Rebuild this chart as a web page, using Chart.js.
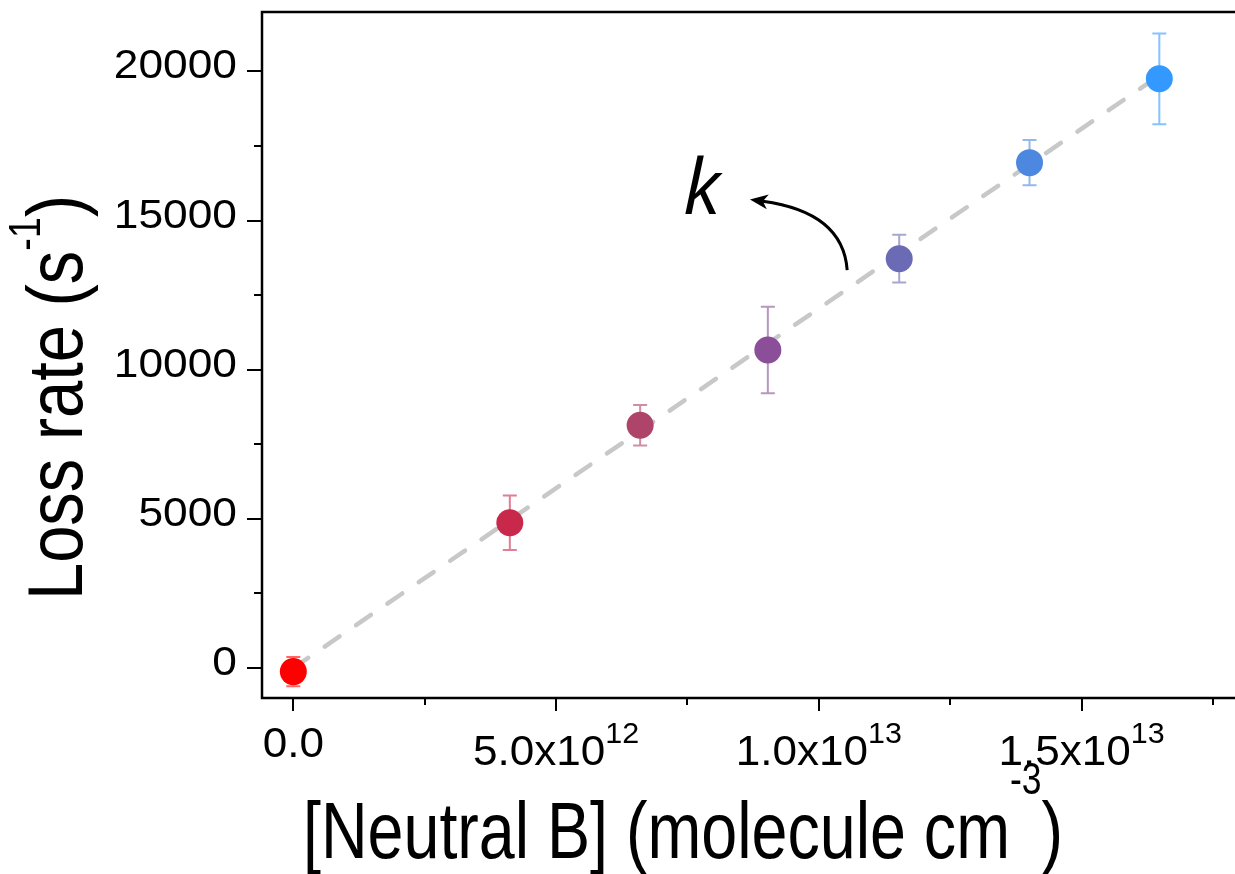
<!DOCTYPE html>
<html>
<head>
<meta charset="utf-8">
<script src="https://cdn.jsdelivr.net/npm/chart.js@4.4.1/dist/chart.umd.min.js"></script>
<style>
  html, body { margin: 0; padding: 0; background: #fff; }
  #wrap { width: 1235px; height: 874px; }
</style>
</head>
<body>
<div id="wrap"><canvas id="lossChart" width="1235" height="874"></canvas></div>
<script>
// concentration of neutral B (molecule cm^-3) and measured loss rate (s^-1)
var neutralB = [0, 4.12e12, 6.60e12, 9.03e12, 11.53e12, 14.01e12, 16.48e12];
var lossRate = [-120, 4870, 8140, 10660, 13720, 16940, 19750];
var lossErr = [490, 910, 680, 1450, 800, 760, 1520];
var pointColors = ['#ff0000', '#c8294b', '#ae4469', '#8a4f98', '#6b6ab5', '#4d88e0', '#3399ff'];

// linear fit, slope k
var fitX = [0, 16.48e12];
var fitY = [0, 19860];

var xMajorTicks = [0, 5e12, 1e13, 1.5e13];
var xMinorTicks = [2.5e12, 7.5e12, 1.25e13, 1.75e13];
var xTickMantissa = ['0.0', '5.0x10', '1.0x10', '1.5x10'];
var xTickExponent = ['', '12', '13', '13'];
var yMajorTicks = [0, 5000, 10000, 15000, 20000];
var yMinorTicks = [2500, 7500, 12500, 17500];
var yTickLabels = ['0', '5000', '10000', '15000', '20000'];

// "k" annotation, in data units
var arrowFrom = [10.54e12, 13340];
var arrowVia = [10.46e12, 15280];
var arrowTo = [8.69e12, 15707];
var kLabelAt = [7.42e12, 15220];

var FONT = '"Liberation Sans", Arial, sans-serif';
var NARROW = '"Liberation Sans Narrow", "Liberation Sans", Arial, sans-serif';

function hexAlpha(hex, a) {
    var n = parseInt(hex.slice(1), 16);
    return 'rgba(' + (n >> 16 & 255) + ',' + (n >> 8 & 255) + ',' + (n & 255) + ',' + a + ')';
}

// runs: [text, fontSize, rise]
function runsWidth(ctx, runs, family) {
    var w = 0;
    runs.forEach(function(r) {
        ctx.font = r[1] + 'px ' + family;
        w += ctx.measureText(r[0]).width;
    });
    return w;
}

function drawRuns(ctx, runs, family, x, y, sx, align) {
    var w = runsWidth(ctx, runs, family) * sx;
    var start = x;
    if (align === 'center') start = x - w / 2;
    if (align === 'right') start = x - w;
    ctx.save();
    ctx.translate(start, y);
    ctx.scale(sx, 1);
    ctx.textAlign = 'left';
    ctx.textBaseline = 'alphabetic';
    var cx = 0;
    runs.forEach(function(r) {
        ctx.font = r[1] + 'px ' + family;
        ctx.fillText(r[0], cx, -r[2]);
        cx += ctx.measureText(r[0]).width;
    });
    ctx.restore();
}

var errorBars = {
    id: 'errorBars',
    beforeDatasetsDraw: function(chart) {
        var ctx = chart.ctx, xs = chart.scales.x, ys = chart.scales.y;
        ctx.save();
        ctx.lineWidth = 2;
        neutralB.forEach(function(v, i) {
            var px = xs.getPixelForValue(v);
            var top = ys.getPixelForValue(lossRate[i] + lossErr[i]);
            var bot = ys.getPixelForValue(lossRate[i] - lossErr[i]);
            ctx.strokeStyle = hexAlpha(pointColors[i], 0.6);
            ctx.beginPath();
            ctx.moveTo(px, top); ctx.lineTo(px, bot);
            ctx.moveTo(px - 7, top); ctx.lineTo(px + 7, top);
            ctx.moveTo(px - 7, bot); ctx.lineTo(px + 7, bot);
            ctx.stroke();
        });
        ctx.restore();
    }
};

var axesAndNotes = {
    id: 'axesAndNotes',
    afterDraw: function(chart) {
        var ctx = chart.ctx, xs = chart.scales.x, ys = chart.scales.y;
        var ca = chart.chartArea;
        ctx.save();
        ctx.fillStyle = '#000';
        ctx.strokeStyle = '#000';

        // frame
        ctx.lineWidth = 2.5;
        ctx.beginPath();
        ctx.moveTo(ca.right + 2, ca.top);
        ctx.lineTo(ca.left, ca.top);
        ctx.lineTo(ca.left, ca.bottom);
        ctx.lineTo(ca.right + 2, ca.bottom);
        ctx.stroke();

        // ticks
        ctx.lineWidth = 2;
        ctx.beginPath();
        xMajorTicks.forEach(function(v) {
            var p = Math.round(xs.getPixelForValue(v));
            ctx.moveTo(p, ca.bottom); ctx.lineTo(p, ca.bottom + 13);
        });
        xMinorTicks.forEach(function(v) {
            var p = Math.round(xs.getPixelForValue(v));
            ctx.moveTo(p, ca.bottom); ctx.lineTo(p, ca.bottom + 7);
        });
        yMajorTicks.forEach(function(v) {
            var p = Math.round(ys.getPixelForValue(v));
            ctx.moveTo(ca.left, p); ctx.lineTo(ca.left - 15, p);
        });
        yMinorTicks.forEach(function(v) {
            var p = Math.round(ys.getPixelForValue(v));
            ctx.moveTo(ca.left, p); ctx.lineTo(ca.left - 8, p);
        });
        ctx.stroke();

        // tick labels
        xMajorTicks.forEach(function(v, i) {
            var p = xs.getPixelForValue(v);
            if (xTickExponent[i]) {
                drawRuns(ctx, [[xTickMantissa[i], 42, 0], [xTickExponent[i], 29, 22]], FONT, p, ca.bottom + 67, 1.05, 'center');
            } else {
                drawRuns(ctx, [[xTickMantissa[i], 42, 0]], FONT, p, ca.bottom + 59, 1.05, 'center');
            }
        });
        yMajorTicks.forEach(function(v, i) {
            var p = ys.getPixelForValue(v);
            drawRuns(ctx, [[yTickLabels[i], 41, 0]], FONT, ca.left - 25, p + 7, 1.08, 'right');
        });

        // axis titles
        var xTitle = [['[Neutral B] (molecule cm', 80, 0], ['-3', 44, 64], [')', 80, 0]];
        var xsx = 760 / runsWidth(ctx, xTitle, NARROW);
        drawRuns(ctx, xTitle, NARROW, 303, 858, xsx, 'left');

        var yTitle = [['Loss rate (s', 78, 0], ['-1', 44, 42], [')', 78, 0]];
        var ysx = 405 / runsWidth(ctx, yTitle, NARROW);
        ctx.save();
        ctx.translate(82, 600);
        ctx.rotate(-Math.PI / 2);
        drawRuns(ctx, yTitle, NARROW, 0, 0, ysx, 'left');
        ctx.restore();

        // curved arrow towards k
        var p0 = { x: xs.getPixelForValue(arrowFrom[0]), y: ys.getPixelForValue(arrowFrom[1]) };
        var p1 = { x: xs.getPixelForValue(arrowVia[0]), y: ys.getPixelForValue(arrowVia[1]) };
        var p2 = { x: xs.getPixelForValue(arrowTo[0]), y: ys.getPixelForValue(arrowTo[1]) };
        var ang = Math.atan2(p2.y - p1.y, p2.x - p1.x);
        var c = Math.cos(ang), s = Math.sin(ang);
        var headLen = 18, headHalf = 7.5;
        var base = { x: p2.x - headLen * c, y: p2.y - headLen * s };
        ctx.lineWidth = 3;
        ctx.beginPath();
        ctx.moveTo(p0.x, p0.y);
        ctx.quadraticCurveTo(p1.x, p1.y, base.x + 5 * c, base.y + 5 * s);
        ctx.stroke();
        ctx.beginPath();
        ctx.moveTo(p2.x, p2.y);
        ctx.lineTo(base.x - headHalf * s, base.y + headHalf * c);
        ctx.lineTo(base.x + 5 * c, base.y + 5 * s);
        ctx.lineTo(base.x + headHalf * s, base.y - headHalf * c);
        ctx.closePath();
        ctx.fill();

        ctx.font = 'italic 76px "Open Sans", "Noto Sans", sans-serif';
        ctx.textAlign = 'left';
        ctx.textBaseline = 'alphabetic';
        ctx.fillText('k', xs.getPixelForValue(kLabelAt[0]), ys.getPixelForValue(kLabelAt[1]));

        ctx.restore();
    }
};

var ctx = document.getElementById('lossChart').getContext('2d');
var chart = new Chart(ctx, {
    type: 'scatter',
    data: {
        datasets: [
            {
                label: 'Loss rate',
                data: neutralB.map(function(v, i) { return { x: v, y: lossRate[i] }; }),
                pointRadius: 13.5,
                pointBackgroundColor: pointColors,
                pointBorderWidth: 0,
                order: 0
            },
            {
                label: 'Fit',
                data: fitX.map(function(v, i) { return { x: v, y: fitY[i] }; }),
                showLine: true,
                borderColor: '#c8c8c8',
                borderWidth: 4.5,
                borderDash: [18, 20],
                borderCapStyle: 'round',
                pointRadius: 0,
                order: 1
            }
        ]
    },
    options: {
        responsive: false,
        devicePixelRatio: 1,
        animation: false,
        layout: { autoPadding: false, padding: { top: 12, right: 0, left: 0, bottom: 0 } },
        plugins: { legend: { display: false }, tooltip: { enabled: false } },
        scales: {
            x: {
                type: 'linear',
                min: -0.596e12,
                max: 17.92e12,
                grid: { display: false },
                border: { display: false },
                ticks: { display: false },
                afterFit: function(scale) { scale.height = 176; }
            },
            y: {
                type: 'linear',
                min: -1005,
                max: 21990,
                grid: { display: false },
                border: { display: false },
                ticks: { display: false },
                afterFit: function(scale) { scale.width = 262; }
            }
        }
    },
    plugins: [errorBars, axesAndNotes]
});
</script>
</body>
</html>
